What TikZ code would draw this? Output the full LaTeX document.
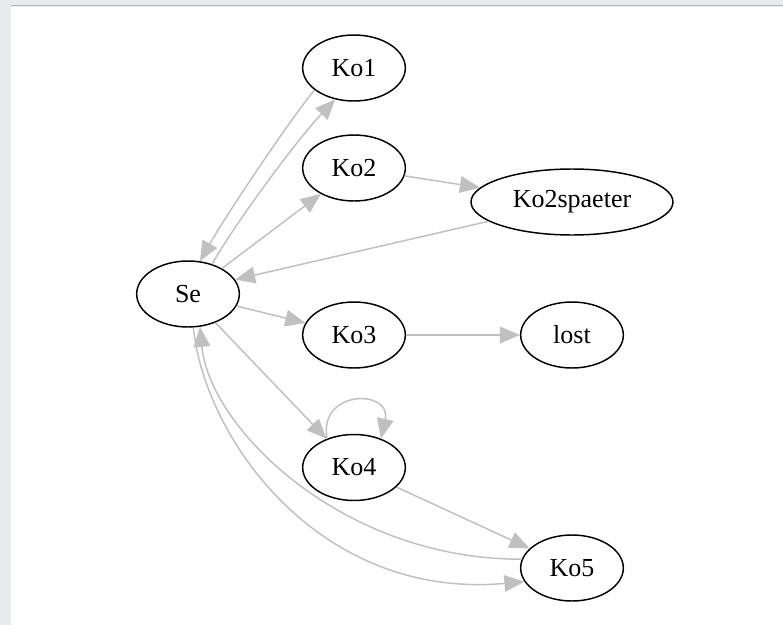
\documentclass[tikz,border=0pt]{standalone}
\usepackage{fontspec}
\setmainfont{Liberation Serif}
\usetikzlibrary{shapes.geometric,arrows.meta}
\definecolor{edgegray}{HTML}{C0C0C0}
\definecolor{framegray}{HTML}{E9EAEE}
\definecolor{lineframe}{HTML}{B4B4B4}
\tikzset{
  st/.style={ellipse,draw=black,line width=1.1pt,inner sep=0pt,
    minimum width=77pt,minimum height=49.5pt,
    font=\fontsize{19.5}{21}\selectfont},
  wide/.style={minimum width=151.5pt},
  edge/.style={draw=edgegray,line width=1.1pt,
    -{Triangle[length=15pt,width=12.5pt]}}
}
\begin{document}
\begin{tikzpicture}[x=0.75pt,y=-0.75pt]
\useasboundingbox (0,0) rectangle (783,625);
\fill[framegray] (0,0) rectangle (783,625);
\fill[white] (11,6.5) rectangle (783,625);
\draw[lineframe,line width=1.3pt] (11,5.6) -- (783,5.6);

\node[st] (Ko1) at (354,68) {Ko1};
\node[st] (Ko2) at (354,168) {Ko2};
\node[st] (Se) at (188,294) {Se};
\node[st,wide] (Ko2s) at (572,202) {Ko2spaeter};
\node[st] (Ko3) at (354,335) {Ko3};
\node[st] (lost) at (572,335) {lost};
\node[st] (Ko4) at (354,467.5) {Ko4};
\node[st] (Ko5) at (572,568) {Ko5};

\path[edge] (Ko1.209) .. controls (290,120) and (228,212) .. (Se.70);
\path[edge] (Se.51) .. controls (232,228) and (295,142) .. (Ko1.239);
\path[edge] (Se.37) -- (Ko2.218);
\path[edge] (Ko2) -- (Ko2s);
\path[edge] (Ko2s.193) -- (Se.17);
\path[edge] (Se) -- (Ko3);
\path[edge] (Ko3) -- (lost);
\path[edge] (Se) -- (Ko4);
\path[edge] (Ko4.133) .. controls (318,389) and (392,389) .. (Ko4.47);
\path[edge] (Ko4) -- (Ko5);
\path[edge] (Se.-81) .. controls (205,440) and (320,600) .. (Ko5.196);
\path[edge] (Ko5.170) .. controls (345,560) and (210,430) .. (Se.-70);
\end{tikzpicture}
\end{document}
